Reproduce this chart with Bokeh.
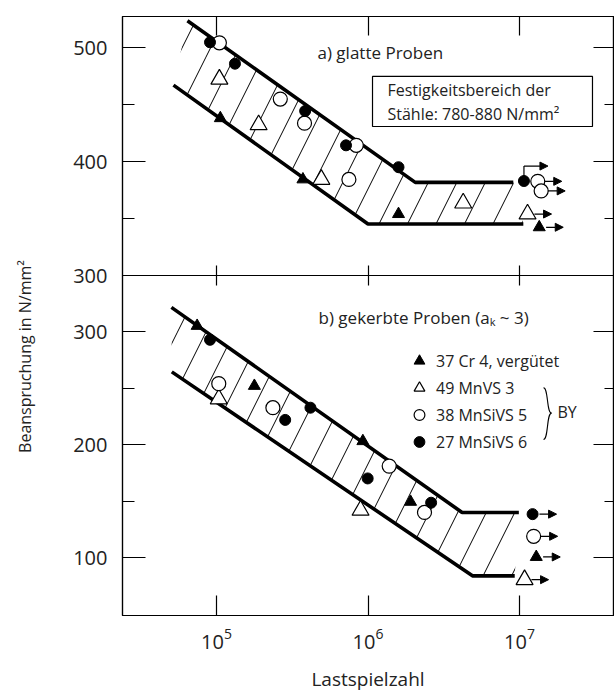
import math
from bokeh.plotting import figure
from bokeh.models import (Range1d, LinearAxis, LogAxis, FixedTicker, Arrow, NormalHead,
                          Label, BoxAnnotation, Legend, LegendItem, ColumnDataSource)
from bokeh.layouts import column, row
from bokeh.embed import file_html
from bokeh.resources import INLINE

FONT = "Open Sans"

# ---------------- data ----------------
x_ticks = [1e5, 1e6, 1e7]
top_y_major = [300, 400, 500]
top_y_minor = [350, 450]
bot_y_major = [100, 200, 300]
bot_y_minor = [150, 250]

# a) glatte Proben  (N = Lastspielzahl, S = Beanspruchung N/mm2)
a_upper_N = [6.43e4, 2.05e6, 9.1e6]
a_upper_S = [523.5, 381.7, 381.7]
a_lower_N = [5.2e4, 1.0e6, 1.06e7]
a_lower_S = [467.0, 345.2, 345.2]
a_ft_N = [1.06e5, 3.72e5, 1.59e6, 1.35e7]
a_ft_S = [438.0, 384.3, 353.9, 342.3]
a_ot_N = [1.045e5, 1.897e5, 4.92e5, 4.25e6, 1.13e7]
a_ot_S = [472.2, 432.2, 384.3, 363.5, 353.9]
a_oc_N = [1.045e5, 2.637e5, 3.81e5, 8.37e5, 7.48e5, 1.32e7, 1.39e7]
a_oc_S = [504.1, 454.8, 433.6, 414.2, 384.3, 382.6, 374.2]
a_fc_N = [9.06e4, 1.324e5, 3.848e5, 7.16e5, 1.59e6, 1.07e7]
a_fc_S = [504.6, 485.8, 444.3, 414.2, 395.0, 382.9]
# Durchlaeufer (run-outs) with arrow level
a_run_N = [1.07e7, 1.32e7, 1.39e7, 1.13e7, 1.35e7]
a_run_S = [382.9, 382.6, 374.2, 353.9, 342.3]
a_run_arrow_S = [396.0, 382.6, 374.2, 353.9, 342.3]

# b) gekerbte Proben
b_upper_N = [5.04e4, 4.18e6, 9.9e6]
b_upper_S = [321.8, 140.3, 140.3]
b_lower_N = [5.07e4, 4.89e6, 9.3e6]
b_lower_S = [264.7, 84.2, 84.2]
b_ft_N = [7.45e4, 1.778e5, 9.25e5, 1.91e6, 1.29e7]
b_ft_S = [305.4, 252.3, 203.4, 149.7, 100.9]
b_ot_N = [1.035e5, 8.93e5, 1.08e7]
b_ot_S = [240.8, 142.2, 80.8]
b_oc_N = [1.035e5, 2.356e5, 1.38e6, 2.36e6, 1.24e7]
b_oc_S = [254.3, 233.0, 181.3, 140.3, 119.2]
b_fc_N = [9.06e4, 2.84e5, 4.17e5, 9.95e5, 2.61e6, 1.22e7]
b_fc_S = [293.1, 222.2, 233.0, 170.4, 148.9, 138.8]
b_run_N = [1.22e7, 1.24e7, 1.29e7, 1.08e7]
b_run_S = [138.8, 119.2, 100.9, 80.8]

legend_labels = ["37 Cr 4, vergütet", "49 MnVS 3", "38 MnSiVS 5", "27 MnSiVS 6"]

# ---------------- layout ----------------
X_RANGE = (10 ** 4.37954, 10 ** 7.62046)
TITLE_W = 48
MAIN_W = 614 - TITLE_W
OVERLAP = 14


def base_fig(height, yr, mb_top, mb_bottom):
    p = figure(width=MAIN_W, height=height, x_axis_type="log",
               x_range=Range1d(*X_RANGE), y_range=Range1d(*yr),
               x_axis_location=None, y_axis_location=None,
               output_backend="svg", toolbar_location=None,
               min_border_left=74, min_border_right=1,
               min_border_top=mb_top, min_border_bottom=mb_bottom,
               background_fill_color=None, border_fill_color=None,
               outline_line_color="black", outline_line_width=1.2)
    p.grid.visible = False
    return p


def hide_labels(ax):
    ax.major_label_text_font_size = "1px"
    ax.major_label_text_alpha = 0
    ax.major_label_standoff = 0


def x_axis(p, place, t_in, t_out, labels=False):
    ax = LogAxis(ticker=FixedTicker(ticks=x_ticks, minor_ticks=[]),
                 major_tick_in=t_in, major_tick_out=t_out,
                 minor_tick_in=0, minor_tick_out=0,
                 major_tick_line_width=1.2, axis_line_width=1.2)
    if labels:
        ax.major_label_text_font = FONT
        ax.major_label_text_font_size = "20px"
        ax.major_label_text_color = "#222222"
        ax.major_label_standoff = 12
        ax.axis_label = "Lastspielzahl"
        ax.axis_label_text_font = FONT
        ax.axis_label_text_font_size = "19px"
        ax.axis_label_text_font_style = "normal"
        ax.axis_label_text_color = "#222222"
        ax.axis_label_standoff = 14
    else:
        hide_labels(ax)
    p.add_layout(ax, place)


def y_axis(p, place, major, minor, labels):
    ax = LinearAxis(ticker=FixedTicker(ticks=major, minor_ticks=minor),
                    major_tick_out=0, minor_tick_out=0,
                    major_tick_line_width=1.2, minor_tick_line_width=1.2,
                    axis_line_width=1.2)
    if labels:
        ax.major_tick_in = 23
        ax.minor_tick_in = 12
        ax.major_label_text_font = FONT
        ax.major_label_text_font_size = "20px"
        ax.major_label_text_color = "#222222"
        ax.major_label_standoff = 15
    else:
        ax.major_tick_in = 20
        ax.minor_tick_in = 9
        hide_labels(ax)
    p.add_layout(ax, place)


def band(p, upN, upS, loN, loS):
    p.patch(x=upN + loN[::-1], y=upS + loS[::-1], fill_alpha=0, line_color=None,
            hatch_pattern="/", hatch_scale=57, hatch_weight=1, hatch_color="black")
    p.line(upN, upS, line_width=3.6, color="black")
    p.line(loN, loS, line_width=3.6, color="black")


def markers(p, ftN, ftS, otN, otS, ocN, ocS, fcN, fcS):
    r1 = p.scatter(ftN, ftS, marker="triangle", size=12, fill_color="black", line_color="black")
    r2 = p.scatter(otN, otS, marker="triangle", size=17, fill_color="white", line_color="black", line_width=1.2)
    r3 = p.scatter(ocN, ocS, marker="circle", size=14, fill_color="white", line_color="black", line_width=1.2)
    r4 = p.scatter(fcN, fcS, marker="circle", size=11, fill_color="black", line_color="black")
    return [r1, r2, r3, r4]


def runout_arrows(p, N, S, arrowS):
    xs = [n if a != s else n * 1.11 for n, s, a in zip(N, S, arrowS)]
    src = ColumnDataSource(dict(xs=xs, xe=[n * 1.44 for n in N], y=arrowS))
    p.add_layout(Arrow(end=NormalHead(size=8, fill_color="black", line_color="black"),
                       x_start="xs", y_start="y", x_end="xe", y_end="y",
                       line_width=1.2, source=src))


def text_label(p, x, y, text, size="17px"):
    p.add_layout(Label(x=x, y=y, text=text, text_font=FONT, text_font_size=size,
                       text_color="#222222", text_baseline="middle", text_align="left"))


# ---- top panel a) ----
top = base_fig(275 + OVERLAP, (300, 527.2), 16, OVERLAP)
x_axis(top, "above", 19, 0)
x_axis(top, "below", 10, 10)
y_axis(top, "left", top_y_major, top_y_minor, True)
y_axis(top, "right", top_y_major, top_y_minor, False)
band(top, a_upper_N, a_upper_S, a_lower_N, a_lower_S)
lead = [(n, s, a) for n, s, a in zip(a_run_N, a_run_S, a_run_arrow_S) if a != s]
top.segment(x0=[l[0] for l in lead], y0=[l[1] for l in lead],
            x1=[l[0] for l in lead], y1=[l[2] for l in lead], color="black", line_width=1.2)
markers(top, a_ft_N, a_ft_S, a_ot_N, a_ot_S, a_oc_N, a_oc_S, a_fc_N, a_fc_S)
runout_arrows(top, a_run_N, a_run_S, a_run_arrow_S)
text_label(top, 4.64e5, 495.6, "a) glatte Proben")
top.add_layout(BoxAnnotation(left=1.071e6, right=3.032e7, top=474.6, bottom=430.7,
                             fill_color="white", fill_alpha=1, line_color="black",
                             line_width=1.2, line_alpha=1))
text_label(top, 1.345e6, 462.3, "Festigkeitsbereich der", size="16px")
text_label(top, 1.345e6, 442.1, "Stähle: 780-880 N/mm²", size="16px")

# ---- bottom panel b) ----
bot = base_fig(694 - 275, (49.1, 350.0), 0, 70)
bot.margin = (-OVERLAP, 0, 0, 0)
x_axis(bot, "below", 20, 0, labels=True)
y_axis(bot, "left", bot_y_major, bot_y_minor, True)
y_axis(bot, "right", bot_y_major, bot_y_minor, False)
band(bot, b_upper_N, b_upper_S, b_lower_N, b_lower_S)
rs = markers(bot, b_ft_N, b_ft_S, b_ot_N, b_ot_S, b_oc_N, b_oc_S, b_fc_N, b_fc_S)
runout_arrows(bot, b_run_N, b_run_S, b_run_S)
text_label(bot, 4.715e5, 312.9, "b) gekerbte Proben (aₖ ~ 3)")

legend = Legend(items=[LegendItem(label=l, renderers=[r]) for l, r in zip(legend_labels, rs)],
                location=(282, 160), glyph_width=30, glyph_height=27, label_height=27,
                spacing=0, padding=0, margin=0, label_standoff=2,
                border_line_color=None, background_fill_alpha=0,
                label_text_font=FONT, label_text_font_size="16px", label_text_color="#222222")
bot.add_layout(legend)

# brace grouping the BY steels
bot.bezier(x0=[1.440e7, 1.627e7], y0=[250.6, 228.2], x1=[1.627e7, 1.440e7], y1=[228.2, 204.9],
           cx0=[1.554e7, 1.507e7], cy0=[250.6, 228.2], cx1=[1.507e7, 1.554e7], cy1=[228.2, 204.9],
           line_color="black", line_width=1.1)
text_label(bot, 1.781e7, 229.0, "BY", size="16px")

# ---- y-axis title ----
ttl = figure(width=TITLE_W, height=694, x_range=Range1d(0, TITLE_W), y_range=Range1d(0, 694),
             x_axis_location=None, y_axis_location=None, output_backend="svg",
             toolbar_location=None, min_border=0, outline_line_color=None,
             background_fill_color=None, border_fill_color=None)
ttl.grid.visible = False
ttl.add_layout(Label(x=24, y=338, text="Beanspruchung in N/mm²", angle=math.pi / 2,
                     text_font=FONT, text_font_size="16px", text_color="#222222",
                     text_align="center", text_baseline="middle"))

layout = row(ttl, column(top, bot))
open("out.html", "w").write(file_html(layout, INLINE))
